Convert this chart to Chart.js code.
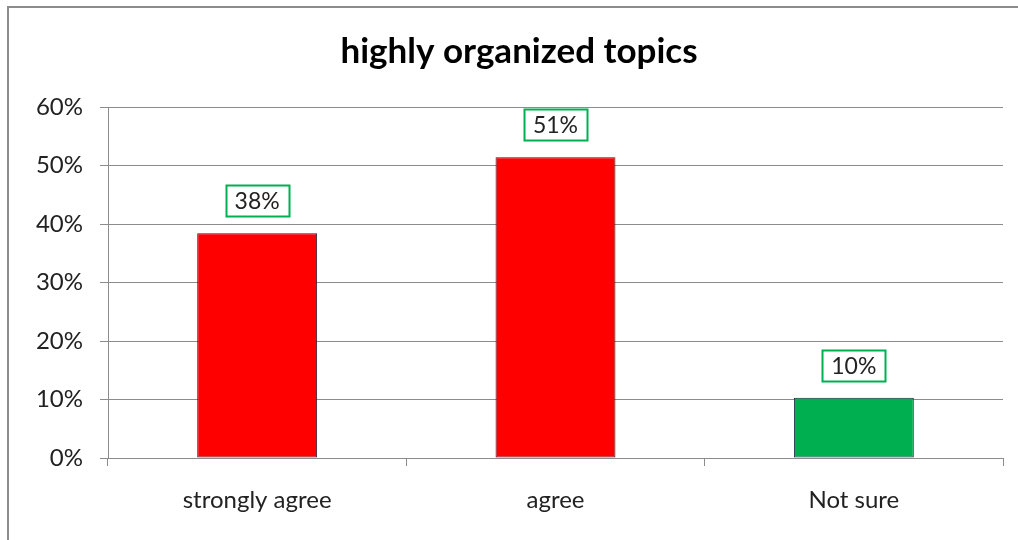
<!DOCTYPE html>
<html>
<head>
<meta charset="utf-8">
<script src="https://cdn.jsdelivr.net/npm/chart.js@4.4.1/dist/chart.umd.min.js"></script>
<style>
  html, body { margin: 0; padding: 0; background: #fff; overflow: hidden; }
  #wrap { width: 1018px; height: 540px; position: relative; overflow: hidden; }
  canvas { display: block; }
</style>
</head>
<body>
<div id="wrap"><canvas id="c" width="1018" height="540"></canvas></div>
<script>
const categories = ["strongly agree", "agree", "Not sure"];
const values = [38.4, 51.4, 10.3];
const labelsText = ["38%", "51%", "10%"];
const barColors = ["#FF0000", "#FF0000", "#00B050"];
const yTicks = [0, 10, 20, 30, 40, 50, 60];
const titleText = "highly organized topics";

const FONT = "Lato, 'Open Sans', sans-serif";

const framePlugin = {
  id: 'frame',
  beforeDraw(chart) {
    const ctx = chart.ctx;
    ctx.save();
    ctx.fillStyle = '#fff';
    ctx.fillRect(0, 0, chart.width, chart.height);
    ctx.strokeStyle = '#8c8c8c';
    ctx.lineWidth = 2;
    ctx.beginPath();
    ctx.moveTo(8, chart.height + 2);
    ctx.lineTo(8, 7);
    ctx.lineTo(chart.width + 2, 7);
    ctx.stroke();
    ctx.restore();
  }
};

const boxLabels = {
  id: 'boxLabels',
  afterDatasetsDraw(chart) {
    const ctx = chart.ctx;
    const meta = chart.getDatasetMeta(0);
    const y = chart.scales.y;
    ctx.save();
    ctx.font = "23px " + FONT;
    ctx.textAlign = 'center';
    ctx.textBaseline = 'middle';
    meta.data.forEach((bar, i) => {
      const txt = labelsText[i];
      const top = y.getPixelForValue(values[i]);
      const w = ctx.measureText(txt).width + 18;
      const h = 31;
      const cx = bar.x;
      const by = top - 17;
      ctx.fillStyle = '#fff';
      ctx.fillRect(cx - w / 2, by - h, w, h);
      ctx.strokeStyle = '#00B050';
      ctx.lineWidth = 2;
      ctx.strokeRect(Math.round(cx - w / 2) + 0.5, Math.round(by - h) + 0.5, Math.round(w), h);
      ctx.fillStyle = '#222';
      ctx.fillText(txt, cx, by - h / 2 + 1);
    });
    ctx.restore();
  }
};

new Chart(document.getElementById('c'), {
  type: 'bar',
  data: {
    labels: categories,
    datasets: [{
      data: values,
      backgroundColor: barColors,
      borderColor: '#202040',
      borderWidth: 1,
      borderSkipped: false,
      categoryPercentage: 1.0,
      barPercentage: 0.402
    }]
  },
  options: {
    responsive: false,
    animation: false,
    devicePixelRatio: 1,
    layout: { padding: { left: 20, right: 0, top: 0, bottom: 0 } },
    plugins: {
      legend: { display: false },
      tooltip: { enabled: false },
      title: {
        display: true,
        text: titleText,
        color: '#000',
        font: { family: FONT, size: 35, weight: 'bold', lineHeight: 1.2 },
        padding: { top: 31, bottom: 34 }
      }
    },
    scales: {
      x: {
        grid: {
          display: true,
          drawOnChartArea: false,
          drawTicks: true,
          tickLength: 8,
          color: '#8c8c8c',
          offset: true
        },
        border: { display: true, color: '#8c8c8c', width: 1 },
        ticks: {
          color: '#222',
          padding: 20,
          font: { family: FONT, size: 24 }
        },
        afterFit(scale) { scale.height = 82; }
      },
      y: {
        min: 0,
        max: 60,
        afterBuildTicks(scale) { scale.ticks = yTicks.map(v => ({ value: v })); },
        grid: {
          color: '#8c8c8c',
          drawTicks: true,
          tickLength: 8
        },
        border: { display: true, color: '#8c8c8c', width: 1 },
        ticks: {
          color: '#222',
          padding: 17,
          font: { family: FONT, size: 24 },
          callback: v => v + '%'
        },
        afterFit(scale) { scale.width = 88; }
      },
      yRight: {
        position: 'right',
        display: true,
        min: 0,
        max: 60,
        grid: { display: false, drawTicks: false },
        border: { display: false },
        ticks: { display: false },
        afterFit(scale) { scale.width = 15; }
      }
    }
  },
  plugins: [framePlugin, boxLabels]
});
</script>
</body>
</html>
